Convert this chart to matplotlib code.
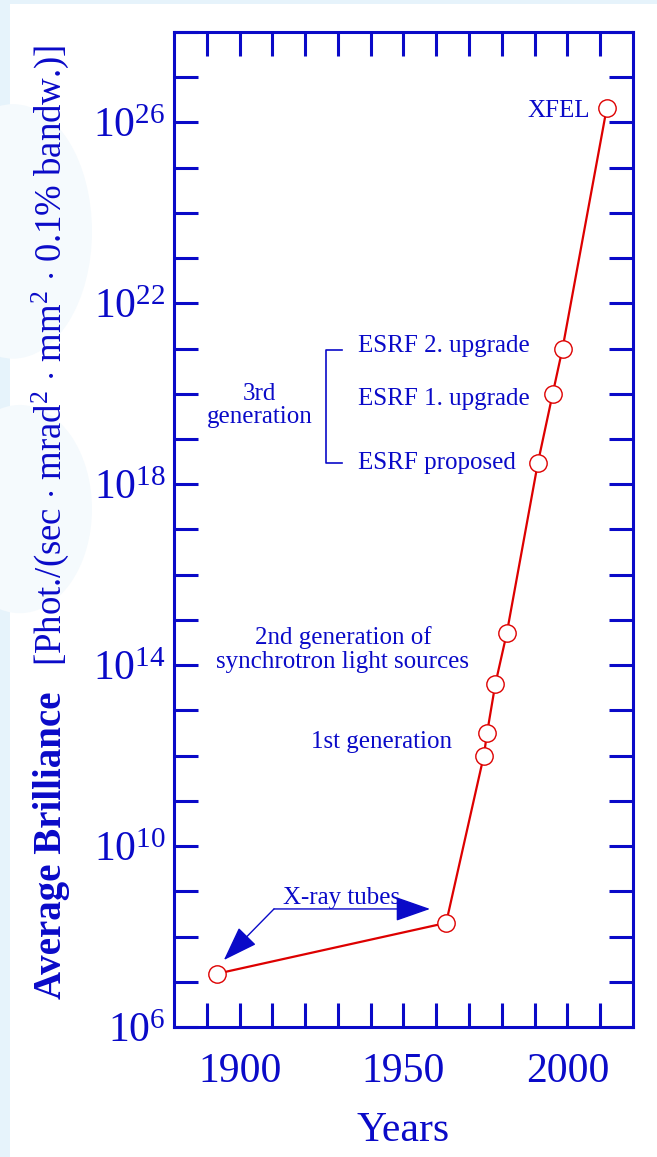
import numpy as np
import matplotlib
matplotlib.use('Agg')
import matplotlib.pyplot as plt
from matplotlib.patches import Rectangle, Ellipse
from matplotlib.ticker import FixedLocator, FuncFormatter, NullLocator

# brilliance of x-ray sources over the years
years = [1893, 1963, 1974.5, 1975.5, 1978, 1981.5, 1991, 1995.5, 1998.5, 2012]
brilliance = [1.5e7, 2e8, 1e12, 3.2e12, 3.8e13, 5.1e14, 3e18, 1e20, 1e21, 2.1e26]

year_ticks = [1890, 1900, 1910, 1920, 1930, 1940, 1950, 1960, 1970, 1980, 1990, 2000, 2010]
year_labels = [1900, 1950, 2000]
decade_ticks = [10.0**k for k in range(6, 29)]
labelled_exps = [6, 10, 14, 18, 22, 26]

blue = '#0a0ac8'
red = '#dd0000'

plt.rcParams['font.family'] = ['Liberation Serif', 'DejaVu Serif']
plt.rcParams['mathtext.fontset'] = 'custom'
plt.rcParams['mathtext.rm'] = 'Liberation Serif'
plt.rcParams['mathtext.it'] = 'Liberation Serif:italic'
plt.rcParams['mathtext.bf'] = 'Liberation Serif:bold'

fig = plt.figure(figsize=(6.57, 11.57), dpi=100, facecolor='#e6f3fb')
# white page on the light blue backdrop, with a few soft blue patches on the left
fig.patches.append(Rectangle((10/657, 0), 1, (1157-4)/1157, transform=fig.transFigure,
                             facecolor='white', edgecolor='none', zorder=-2))
for (cx, cy, w, h) in [(0.02, 0.80, 0.24, 0.22), (0.03, 0.56, 0.22, 0.18)]:
    fig.patches.append(Ellipse((cx, cy), w, h, transform=fig.transFigure,
                               facecolor='#f5fafd', edgecolor='none', zorder=-1))

ax = fig.add_axes([174/657, 130/1157, 459/657, 995/1157])
ax.set_facecolor('none')
ax.set_yscale('log')
ax.set_xlim(1880, 2020)
ax.set_ylim(1e6, 1e28)

ax.plot(years, brilliance, color=red, lw=1.6, zorder=3)
ax.plot(years, brilliance, 'o', ms=12.5, mfc='white', mec=red, mew=1.0, zorder=4)

for s in ax.spines.values():
    s.set_color(blue)
    s.set_linewidth(2.2)

ax.xaxis.set_major_locator(FixedLocator(year_ticks))
ax.xaxis.set_major_formatter(FuncFormatter(lambda v, p: '%d' % v if int(round(v)) in year_labels else ''))
ax.yaxis.set_major_locator(FixedLocator(decade_ticks))
ax.yaxis.set_minor_locator(NullLocator())
ax.yaxis.set_major_formatter(FuncFormatter(
    lambda v, p: r'$\mathregular{10^{%d}}$' % round(np.log10(v)) if round(np.log10(v)) in labelled_exps else ''))
ax.tick_params(which='major', direction='in', length=17, width=2.2, color=blue,
               top=True, right=True, labelcolor=blue, labelsize=30)
ax.tick_params(axis='x', pad=18)
ax.tick_params(axis='y', pad=6)

ax.set_xlabel('Years', color=blue, fontsize=30, labelpad=15)

# y axis title in two parts
fig.text(52/657, 1 - 845/1157, 'Average Brilliance', rotation=90, color=blue,
         fontsize=28, fontweight='bold', ha='center', va='center')
fig.text(50/657, 1 - 355/1157,
         r'[Phot./(sec $\cdot$ mrad$^2$ $\cdot$ mm$^2$ $\cdot$ 0.1% bandw.)]',
         rotation=90, color=blue, fontsize=26.5, ha='center', va='center')

fs = 18
ax.text(2007, 10**26.25, 'XFEL', color=blue, fontsize=fs, ha='right', va='center')
ax.text(1936, 10**21.06, 'ESRF 2. upgrade', color=blue, fontsize=fs, ha='left', va='center')
ax.text(1936, 10**19.88, 'ESRF 1. upgrade', color=blue, fontsize=fs, ha='left', va='center')
ax.text(1936, 10**18.47, 'ESRF proposed', color=blue, fontsize=fs, ha='left', va='center')
ax.text(1906.2, 10**19.75, '3rd\ngeneration', color=blue, fontsize=fs, ha='center', va='center',
        linespacing=1.05)
ax.plot([1931.2, 1926.4, 1926.4, 1931.2], [10**20.97, 10**20.97, 10**18.47, 10**18.47],
        color=blue, lw=1.2)
ax.text(1931.5, 10**14.34, '2nd generation of\nsynchrotron light sources', color=blue,
        fontsize=fs, ha='center', va='center', linespacing=1.1)
ax.text(1964.8, 10**12.3, '1st generation', color=blue, fontsize=fs, ha='right', va='center')

# X-ray tubes label with its two arrows
ax.text(1913.2, 10**8.85, 'X-ray tubes', color=blue, fontsize=fs, ha='left', va='center')
arrow = dict(arrowstyle='-|>,head_length=1.0,head_width=0.35', color=blue, lw=1.0,
             mutation_scale=22, shrinkA=0, shrinkB=0)
ax.annotate('', xy=(1958.1, 10**8.61), xytext=(1910.5, 10**8.61), arrowprops=arrow)
ax.annotate('', xy=(1895.2, 10**7.48), xytext=(1910.5, 10**8.61), arrowprops=arrow)

fig.savefig('out.png', dpi=100, facecolor=fig.get_facecolor())
